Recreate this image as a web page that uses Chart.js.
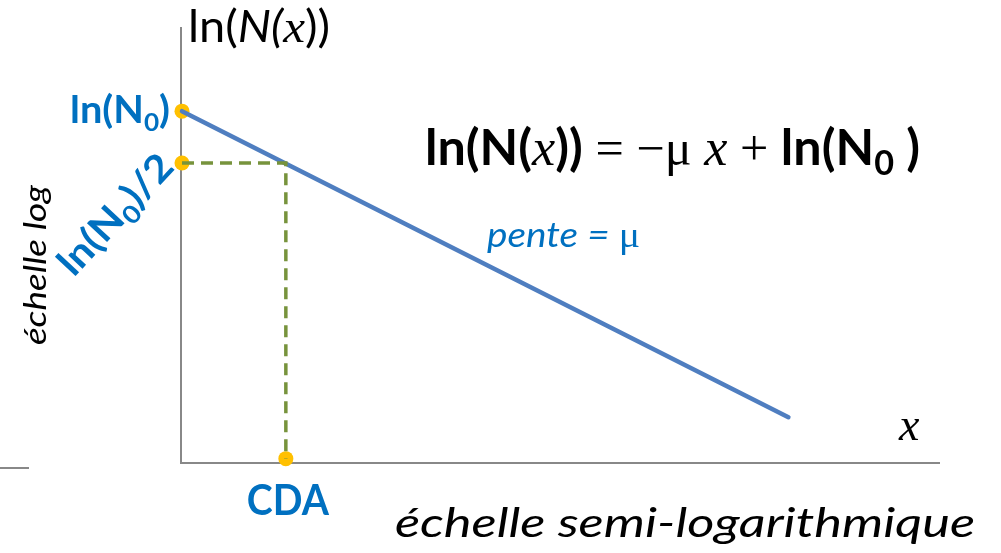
<!DOCTYPE html>
<html>
<head>
<meta charset="utf-8">
<script src="https://cdn.jsdelivr.net/npm/chart.js@4"></script>
<style>
  html, body { margin: 0; padding: 0; background: #fff; }
  #wrap { width: 1001px; height: 553px; }
</style>
</head>
<body>
<div id="wrap"><canvas id="chart" width="1001" height="553"></canvas></div>
<script>
// decay line ln(N(x)) = -mu x + ln(N0), in plot units
const lineX = [0, 8.0];
const lineY = [8.07, 1.05];

// half level and the matching abscissa (CDA)
const halfY = 6.88;
const cdaX = 1.37;

// dashed guide: from the y axis to the line, then down to the x axis
const guideX = [0, cdaX, cdaX];
const guideY = [halfY, halfY, 0.1];

// yellow markers: ln(N0), ln(N0)/2, CDA
const markX = [0, 0, cdaX];
const markY = [8.07, halfY, 0.1];

const X_MAX = 10;
const Y_MAX = 10;

const BLUE_TEXT = "#0070C0";
const SANS = "Lato, 'Open Sans', sans-serif";
const SERIF = "'Liberation Serif', 'DejaVu Serif', serif";

function pts(xs, ys) {
  return xs.map((x, i) => ({ x: x, y: ys[i] }));
}

// draw a row of text runs with different fonts; optionally squeeze to a width
function drawRuns(ctx, runs, x, y, opts) {
  opts = opts || {};
  ctx.save();
  let total = 0;
  runs.forEach((r) => {
    ctx.font = r.font;
    r.w = ctx.measureText(r.text).width;
    total += r.w;
  });
  const sx = opts.width ? opts.width / total : 1;
  let start = x;
  if (opts.align === "right") start = x - total * sx;
  if (opts.align === "center") start = x - (total * sx) / 2;
  ctx.translate(start, y);
  ctx.scale(sx, 1);
  ctx.fillStyle = opts.color || "#000";
  ctx.textBaseline = "alphabetic";
  ctx.textAlign = "left";
  let cx = 0;
  runs.forEach((r) => {
    ctx.font = r.font;
    ctx.fillText(r.text, cx, r.dy || 0);
    cx += r.w;
  });
  ctx.restore();
}

const axesAndLabels = {
  id: "axesAndLabels",
  beforeDatasetsDraw(chart) {
    const ctx = chart.ctx;
    const xs = chart.scales.x;
    const ys = chart.scales.y;
    const x0 = xs.getPixelForValue(0) - 1;
    const y0 = ys.getPixelForValue(0);
    ctx.save();
    ctx.strokeStyle = "#888888";
    ctx.lineWidth = 2;
    ctx.beginPath();
    ctx.moveTo(x0, ys.getPixelForValue(Y_MAX));
    ctx.lineTo(x0, y0);
    ctx.lineTo(xs.getPixelForValue(X_MAX), y0);
    ctx.stroke();
    // leftover stub of a neighbouring axis
    ctx.beginPath();
    ctx.moveTo(0, 468);
    ctx.lineTo(29, 468);
    ctx.stroke();
    ctx.restore();
  },
  afterDatasetsDraw(chart) {
    const ctx = chart.ctx;
    const ys = chart.scales.y;
    const xs = chart.scales.x;

    // axis title
    drawRuns(ctx, [
      { text: "ln(", font: "44px " + SANS },
      { text: "N(", font: "italic 44px " + SANS },
      { text: "x", font: "italic 46px " + SERIF },
      { text: "))", font: "44px " + SANS }
    ], 188, 42, { width: 142 });

    // ln(N0) tick label
    const yN0 = ys.getPixelForValue(lineY[0]);
    drawRuns(ctx, [
      { text: "ln(N", font: "bold 38px " + SANS },
      { text: "0", font: "bold 25px " + SANS, dy: 8 },
      { text: ")", font: "bold 38px " + SANS }
    ], 170, yN0 + 12, { align: "right", width: 100, color: BLUE_TEXT });

    // ln(N0)/2 tick label, slanted
    const yHalf = ys.getPixelForValue(halfY);
    ctx.save();
    ctx.translate(116, yHalf + 52);
    ctx.rotate(-47 * Math.PI / 180);
    drawRuns(ctx, [
      { text: "ln(N", font: "bold 38px " + SANS },
      { text: "0", font: "bold 25px " + SANS, dy: 8 },
      { text: ")/2", font: "bold 38px " + SANS }
    ], 0, 12, { align: "center", width: 150, color: BLUE_TEXT });
    ctx.restore();

    // CDA under the x axis
    drawRuns(ctx, [{ text: "CDA", font: "bold 42px " + SANS }],
      xs.getPixelForValue(cdaX) + 2, 515, { align: "center", width: 82, color: BLUE_TEXT });

    // equation
    drawRuns(ctx, [
      { text: "ln(N(", font: "bold 50px " + SANS },
      { text: "x", font: "italic 52px " + SERIF },
      { text: "))", font: "bold 50px " + SANS },
      { text: " = \u2212", font: "50px " + SERIF },
      { text: "\u03bc ", font: "50px " + SERIF },
      { text: "x", font: "italic 52px " + SERIF },
      { text: " + ", font: "50px " + SERIF },
      { text: "ln(N", font: "bold 50px " + SANS },
      { text: "0", font: "bold 34px " + SANS, dy: 10 },
      { text: " )", font: "bold 50px " + SANS }
    ], 425, 165, { width: 495 });

    // slope note
    drawRuns(ctx, [
      { text: "pente = ", font: "italic 35px " + SANS },
      { text: "\u03bc", font: "36px " + SERIF }
    ], 487, 247, { width: 153, color: BLUE_TEXT });

    // x axis variable
    drawRuns(ctx, [{ text: "x", font: "italic 46px " + SERIF }], 899, 440);

    // scale captions
    drawRuns(ctx, [{ text: "échelle semi-logarithmique", font: "italic 41px " + SANS }],
      395, 537, { width: 580 });

    ctx.save();
    ctx.translate(46, 265);
    ctx.rotate(-Math.PI / 2);
    drawRuns(ctx, [{ text: "échelle log", font: "italic 30px " + SANS }],
      0, 0, { align: "center", width: 160 });
    ctx.restore();
  }
};

new Chart(document.getElementById("chart"), {
  type: "scatter",
  data: {
    datasets: [
      {
        label: "guide",
        data: pts(guideX, guideY),
        showLine: true,
        borderColor: "#77933C",
        borderWidth: 3.5,
        borderDash: [12, 7],
        pointRadius: 0,
        clip: false
      },
      {
        label: "ln(N(x))",
        data: pts(lineX, lineY),
        showLine: true,
        borderColor: "#4F7EC0",
        borderWidth: 4.5,
        borderCapStyle: "round",
        pointRadius: 0,
        clip: false
      },
      {
        label: "repères",
        data: pts(markX, markY),
        showLine: false,
        pointRadius: 7.5,
        pointBackgroundColor: "#FFC000",
        pointBorderWidth: 0,
        clip: false
      }
    ]
  },
  options: {
    responsive: false,
    devicePixelRatio: 1,
    animation: false,
    layout: { padding: { left: 182, right: 61, top: 27, bottom: 90 } },
    scales: {
      x: { type: "linear", min: 0, max: X_MAX, display: false },
      y: { type: "linear", min: 0, max: Y_MAX, display: false }
    },
    plugins: {
      legend: { display: false },
      tooltip: { enabled: false }
    }
  },
  plugins: [axesAndLabels]
});
</script>
</body>
</html>
